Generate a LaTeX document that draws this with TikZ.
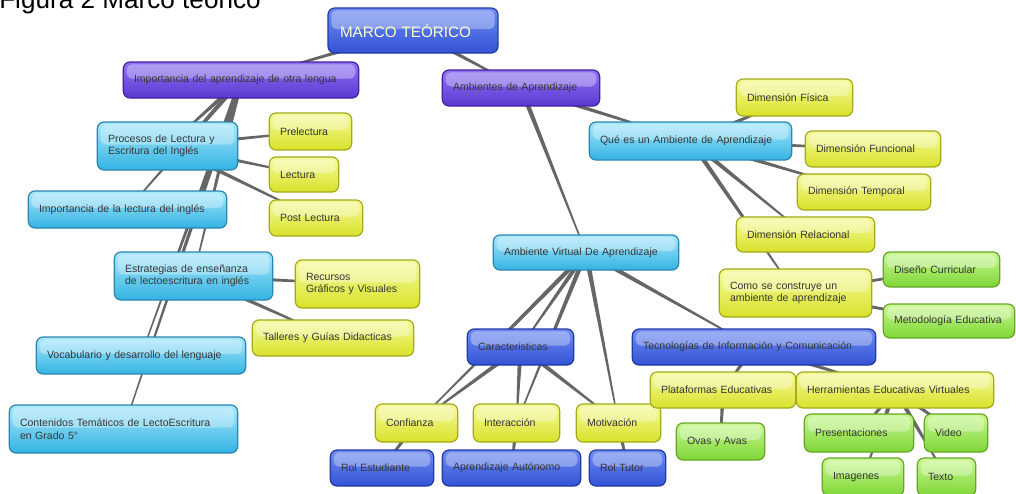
\documentclass[tikz,border=0pt]{standalone}
\usepackage{fontspec}
\setmainfont{Liberation Sans}
\usetikzlibrary{calc}
\pgfdeclarelayer{bg}
\pgfdeclarelayer{back}
\pgfsetlayers{back,bg,main}
\definecolor{txt}{HTML}{363636}
\definecolor{bluL}{HTML}{6F8CF2}
\definecolor{bluB}{HTML}{3253D6}
\definecolor{bluD}{HTML}{2339A0}
\definecolor{purL}{HTML}{9274F2}
\definecolor{purB}{HTML}{5A37D2}
\definecolor{purD}{HTML}{4222A2}
\definecolor{cyaL}{HTML}{A8E8FC}
\definecolor{cyaB}{HTML}{33B3E3}
\definecolor{cyaD}{HTML}{2A86AE}
\definecolor{yelL}{HTML}{F6FA9C}
\definecolor{yelB}{HTML}{D8E22A}
\definecolor{yelD}{HTML}{A3AA1C}
\definecolor{grnL}{HTML}{CAF892}
\definecolor{grnB}{HTML}{7ED636}
\definecolor{grnD}{HTML}{67A628}
\definecolor{connc}{HTML}{666666}
\definecolor{marcotext}{HTML}{FFFFC8}
\tikzset{
  x=0.75pt, y=-0.75pt,
  bub/.style={rounded corners=5pt, line width=0.9pt, inner xsep=8pt, inner ysep=1pt,
    font=\fontsize{7.9}{9.4}\selectfont, text=txt, align=left,
    path picture={\fill[white,opacity=0.32,rounded corners=4pt]
      ([xshift=2.5pt,yshift=-1.8pt]path picture bounding box.north west) rectangle
      ([xshift=-2.5pt,yshift=1pt]path picture bounding box.east);}},
  blu/.style={bub, draw=bluD, top color=bluL, bottom color=bluB},
  pur/.style={bub, draw=purD, top color=purL, bottom color=purB},
  cya/.style={bub, draw=cyaD, top color=cyaL, bottom color=cyaB},
  yel/.style={bub, draw=yelD, top color=yelL, bottom color=yelB},
  grn/.style={bub, draw=grnD, top color=grnL, bottom color=grnB},
  connfill/.style={fill=connc},
  titletext/.style={font=\fontsize{19.6}{22}\selectfont, text=black, inner sep=0pt}
}
\newcommand\bx[7]{%
  \pgfmathsetmacro\bxw{(#4-#2-20)*0.75}%
  \pgfmathsetmacro\bxh{(#5-#3)*0.75}%
  \node[#6, minimum height=\bxh pt, text width=\bxw pt] (#1) at ({(#2+#4)/2},{(#3+#5)/2}) {#7};}
\newcommand\conn[2]{%
  \fill[connfill] ($(#1.center)!1.8pt!90:(#2.center)$) -- ($(#2.center)!0.45pt!-90:(#1.center)$)
   -- ($(#2.center)!0.45pt!90:(#1.center)$) -- ($(#1.center)!1.8pt!-90:(#2.center)$) -- cycle;}
\begin{document}
\begin{tikzpicture}
\useasboundingbox (0,0) rectangle (1016,493);
\begin{pgfonlayer}{back}
\fill[white] (0,0) rectangle (1016,493);
\end{pgfonlayer}
\node[titletext, anchor=base west] (title) at (-1,8) {Figura 2 Marco teórico};
% root
\bx{marco}{330}{8}{496}{53}{blu,text=marcotext,font=\fontsize{11.4}{13}\selectfont,inner xsep=9pt}{MARCO TEÓRICO}
% left branch
\bx{imp}{124}{62}{358}{98}{pur}{Importancia del aprendizaje de otra lengua}
\bx{proc}{98}{122}{237}{170}{cya}{Procesos de Lectura y\\Escritura del Inglés}
\bx{pre}{270}{113}{351}{150}{yel}{Prelectura}
\bx{lec}{270}{157}{338}{192}{yel}{Lectura}
\bx{post}{270}{200}{362}{236}{yel}{Post Lectura}
\bx{implec}{29}{191}{226}{228}{cya}{Importancia de la lectura del inglés}
\bx{estr}{115}{252}{272}{300}{cya}{Estrategias de enseñanza\\de lectoescritura en inglés}
\bx{rec}{296}{260}{419}{308}{yel}{Recursos\\Gráficos y Visuales}
\bx{tall}{253}{320}{413}{356}{yel}{Talleres y Guías Didacticas}
\bx{voc}{37}{337}{245}{374}{cya}{Vocabulario y desarrollo del lenguaje}
\bx{cont}{10}{405}{237}{453}{cya}{Contenidos Temáticos de LectoEscritura\\en Grado 5°}
% right branch
\bx{amb}{443}{70}{599}{106}{pur}{Ambientes de Aprendizaje}
\bx{que}{590}{122}{791}{160}{cya}{Qué es un Ambiente de Aprendizaje}
\bx{fis}{737}{79}{852}{116}{yel}{Dimensión Física}
\bx{fun}{806}{131}{940}{167}{yel}{Dimensión Funcional}
\bx{tem}{798}{174}{930}{210}{yel}{Dimensión Temporal}
\bx{rel}{737}{217}{874}{252}{yel}{Dimensión Relacional}
\bx{como}{720}{269}{871}{317}{yel}{Como se construye un\\ambiente de aprendizaje}
\bx{dis}{884}{252}{999}{287}{grn}{Diseño Curricular}
\bx{met}{884}{304}{1014}{338}{grn}{Metodología Educativa}
\bx{av}{494}{235}{678}{270}{cya}{Ambiente Virtual De Aprendizaje}
\bx{car}{468}{329}{573}{365}{blu}{Caracteristicas}
\bx{tec}{633}{329}{875}{365}{blu}{Tecnologías de Información y Comunicación}
\bx{conf}{376}{404}{457}{442}{yel}{Confianza}
\bx{inter}{474}{404}{559}{442}{yel}{Interacción}
\bx{mot}{577}{404}{660}{442}{yel}{Motivación}
\bx{rest}{331}{450}{433}{486}{blu}{Rol Estudiante}
\bx{aut}{443}{450}{580}{486}{blu}{Aprendizaje Autónomo}
\bx{rtut}{590}{450}{665}{486}{blu}{Rol Tutor}
\bx{plat}{651}{372}{795}{408}{yel}{Plataformas Educativas}
\bx{herr}{797}{372}{993}{408}{yel}{Herramientas Educativas Virtuales}
\bx{ovas}{677}{423}{764}{460}{grn}{Ovas y Avas}
\bx{pres}{805}{414}{913}{452}{grn}{Presentaciones}
\bx{vid}{925}{414}{987}{452}{grn}{Video}
\bx{img}{823}{458}{903}{496}{grn}{Imagenes}
\bx{texto}{918}{458}{975}{496}{grn}{Texto}
\begin{pgfonlayer}{bg}
\conn{marco}{imp}
\conn{marco}{amb}
\conn{imp}{proc}
\conn{imp}{implec}
\conn{imp}{estr}
\conn{imp}{voc}
\conn{imp}{cont}
\conn{proc}{pre}
\conn{proc}{lec}
\conn{proc}{post}
\conn{estr}{rec}
\conn{estr}{tall}
\conn{amb}{que}
\conn{amb}{av}
\conn{que}{fis}
\conn{que}{fun}
\conn{que}{tem}
\conn{que}{rel}
\conn{que}{como}
\conn{como}{dis}
\conn{como}{met}
\conn{av}{car}
\conn{av}{conf}
\conn{av}{inter}
\conn{av}{mot}
\conn{av}{tec}
\conn{car}{conf}
\conn{car}{inter}
\conn{car}{mot}
\conn{conf}{rest}
\conn{inter}{aut}
\conn{mot}{rtut}
\conn{tec}{plat}
\conn{tec}{herr}
\conn{plat}{ovas}
\conn{herr}{pres}
\conn{herr}{vid}
\conn{herr}{img}
\conn{herr}{texto}
\end{pgfonlayer}
\end{tikzpicture}
\end{document}
